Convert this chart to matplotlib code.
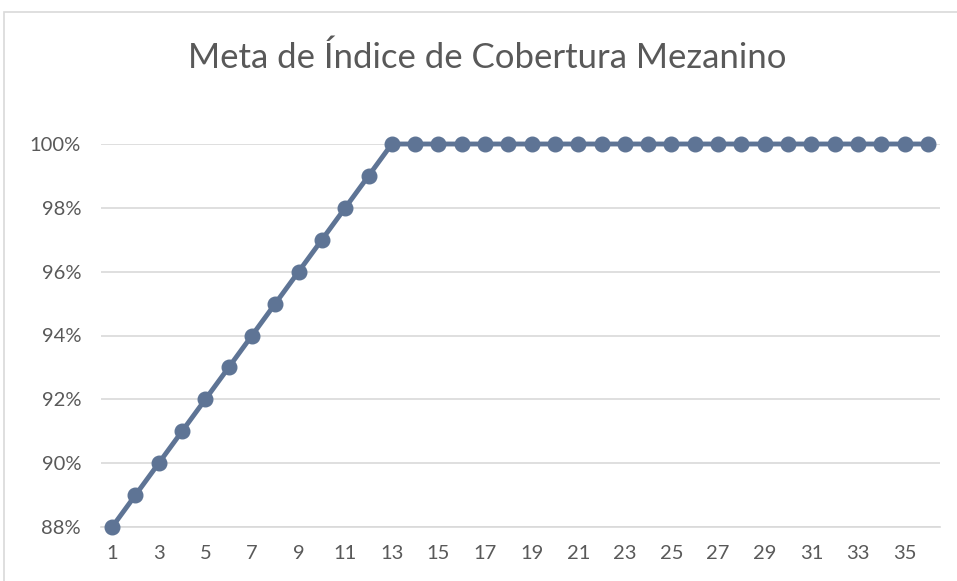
import matplotlib
matplotlib.use("Agg")
import matplotlib.pyplot as plt
from matplotlib.patches import Rectangle
from matplotlib.ticker import FixedLocator, FuncFormatter

periods = list(range(1, 37))
values = [88, 89, 90, 91, 92, 93, 94, 95, 96, 97, 98, 99, 100] + [100] * 23
ytick_vals = [88, 90, 92, 94, 96, 98, 100]
title = "Meta de Índice de Cobertura Mezanino"

plt.rcParams['font.family'] = ['Lato', 'DejaVu Sans']
W, H = 957, 581
fig = plt.figure(figsize=(W / 100, H / 100), dpi=100)
fig.patches.append(Rectangle((4 / W, -0.1), 1.2, (H - 12) / H + 0.1, transform=fig.transFigure,
                             fill=False, edgecolor='#D9D9D9', linewidth=1.2))

ax = fig.add_axes([100.5 / W, 54 / H, (939.5 - 100.5) / W, (527 - 144) / H])
color = '#5E7495'
ax.plot(periods, values, color=color, linewidth=3.5, marker='o', markersize=10.5,
        markerfacecolor=color, markeredgecolor=color, zorder=3, clip_on=False)
ax.set_xlim(0.5, 36.5)
ax.set_ylim(88, 100)
ax.yaxis.set_major_locator(FixedLocator(ytick_vals))
ax.yaxis.set_major_formatter(FuncFormatter(lambda v, p: f"{int(round(v))}%"))
ax.xaxis.set_major_locator(FixedLocator(periods[::2]))
ax.grid(axis='y', color='#D9D9D9', linewidth=1.2)
ax.set_axisbelow(True)
for s in ax.spines.values():
    s.set_visible(False)
ax.spines['bottom'].set_visible(True)
ax.spines['bottom'].set_color('#D9D9D9')
ax.spines['bottom'].set_linewidth(1.2)
ax.tick_params(axis='both', length=0, labelsize=14.5, labelcolor='#595959')
ax.tick_params(axis='y', pad=14)
ax.tick_params(axis='x', pad=13)
fig.text(487 / W, 1 - 58 / H, title, ha='center', va='center', fontsize=25,
         color='#595959')
fig.savefig("out.png", dpi=100)
